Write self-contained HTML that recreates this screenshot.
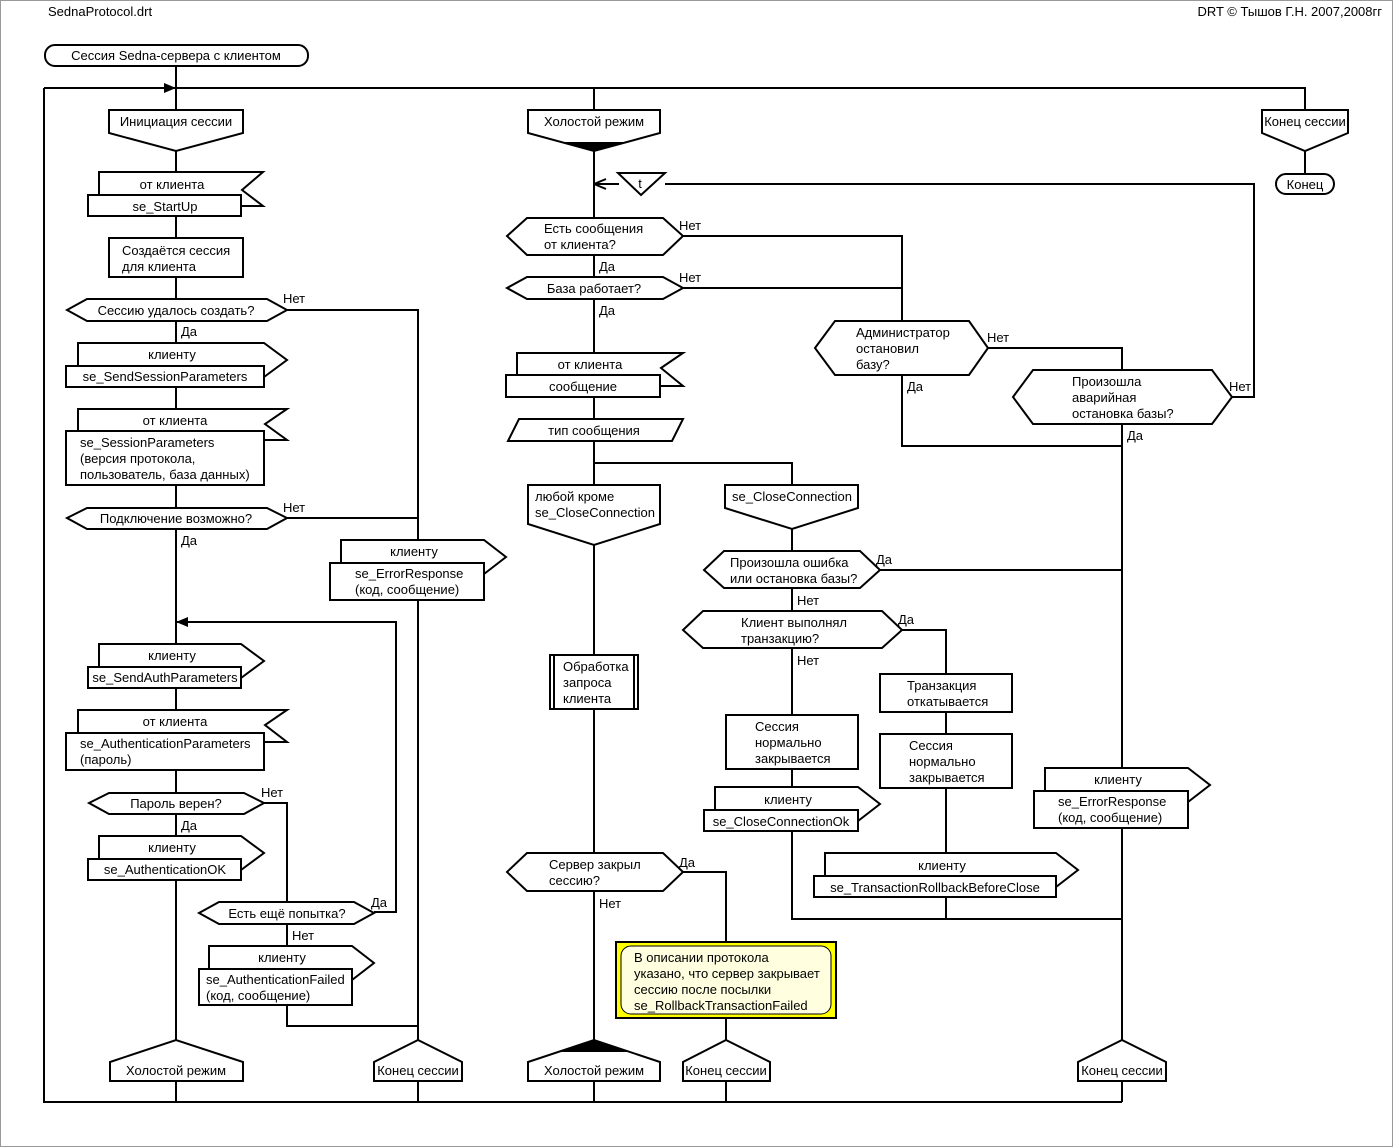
<!DOCTYPE html>
<html><head><meta charset="utf-8"><style>
html,body{margin:0;padding:0;background:#fff}
svg{display:block}
text{font-family:"Liberation Sans",Arial,sans-serif;font-size:13px;fill:#000}
.l{fill:none;stroke:#000;stroke-width:2}
.s{fill:#fff;stroke:#000;stroke-width:2}
.m{text-anchor:middle}
</style></head><body>
<svg width="1393" height="1147" viewBox="0 0 1393 1147" xmlns="http://www.w3.org/2000/svg">
<rect x="0.5" y="0.5" width="1392" height="1146" fill="#fff" stroke="#999"/>
<text x="48" y="16">SednaProtocol.drt</text>
<text x="1382" y="16" text-anchor="end">DRT © Тышов Г.Н. 2007,2008гг</text>

<!-- connectors -->
<path class="l" d="M176,66 V88 M44,88 H1305 V110 M44,88 V1102 H1122 M176,88 V110 M594,88 V110"/>
<path d="M176,88 l-12,-5 v10 z" fill="#000"/>
<path class="l" d="M176,151 V1060 M176,1081 V1102 M1305,151 V174"/>
<path class="l" d="M287,310 H418 V1060 M418,1081 V1102 M287,518 H418"/>
<path class="l" d="M264,803 H287 V902 M374,912 H396 V622 H176 M287,924 V946 M287,1005 V1026 H418"/>
<path d="M176,622 l12,-5 v10 z" fill="#000"/>
<path class="l" d="M594,151 V1060 M594,1081 V1102 M665,184 H1254 V397 H1232 M683,236 H902 V320 M683,288 H902 M902,375 V446 H1122 M988,348 H1122 V369 M1122,425 V1060 M1122,1081 V1102"/>
<path class="l" d="M594,184 H619 M594,184 l12,-5 M594,184 l12,5"/>
<path class="l" d="M594,463 H792 V485 M792,529 V919 H1122 M880,570 H1122 M902,630 H946 V897 M946,897 V919 M683,872 H726 V1060 M726,1081 V1102"/>

<!-- title -->
<rect class="s" x="45" y="45" width="263" height="21" rx="10"/>
<text class="m" x="176" y="60">Сессия Sedna-сервера с клиентом</text>

<!-- headers -->
<polygon class="s" points="109,110 243,110 243,133 176,151 109,133"/>
<text class="m" x="176" y="126">Инициация сессии</text>
<polygon class="s" points="528,110 660,110 660,133 594,151 528,133"/>
<polygon points="560,142 628,142 594,151" fill="#000"/>
<text class="m" x="594" y="126">Холостой режим</text>
<polygon class="s" points="1262,110 1348,110 1348,133 1305,151 1262,133"/>
<text class="m" x="1305" y="126">Конец сессии</text>
<rect class="s" x="1276" y="174" width="58" height="20" rx="10"/>
<text class="m" x="1305" y="189">Конец</text>

<!-- col1 -->
<polygon class="s" points="99,195 99,172 263,172 242,190 263,206 241,206"/>
<text class="m" x="172" y="189">от клиента</text>
<rect class="s" x="88" y="195" width="153" height="21"/>
<text class="m" x="165" y="211">se_StartUp</text>
<rect class="s" x="109" y="238" width="134" height="39"/>
<text x="122" y="255">Создаётся сессия</text><text x="122" y="271">для клиента</text>
<polygon class="s" points="67,310 87,299 267,299 287,310 267,321 87,321"/>
<text class="m" x="176" y="315">Сессию удалось создать?</text>
<text x="283" y="303">Нет</text><text x="181" y="336">Да</text>

<polygon class="s" points="78,366 78,343 264,343 287,360 264,377"/>
<text class="m" x="172" y="359">клиенту</text>
<rect class="s" x="66" y="366" width="198" height="21"/>
<text class="m" x="165" y="381">se_SendSessionParameters</text>

<polygon class="s" points="78,431 78,409 287,409 265,424 287,440 264,440"/>
<text class="m" x="175" y="425">от клиента</text>
<rect class="s" x="66" y="431" width="198" height="54"/>
<text x="80" y="447">se_SessionParameters</text><text x="80" y="463">(версия протокола,</text><text x="80" y="479">пользователь, база данных)</text>

<polygon class="s" points="67,518 87,508 267,508 287,518 267,529 87,529"/>
<text class="m" x="176" y="523">Подключение возможно?</text>
<text x="283" y="512">Нет</text><text x="181" y="545">Да</text>

<polygon class="s" points="341,563 341,540 484,540 506,557 484,574"/>
<text class="m" x="414" y="556">клиенту</text>
<rect class="s" x="330" y="563" width="154" height="37"/>
<text x="355" y="578">se_ErrorResponse</text><text x="355" y="594">(код, сообщение)</text>

<polygon class="s" points="99,667 99,644 241,644 264,661 241,678"/>
<text class="m" x="172" y="660">клиенту</text>
<rect class="s" x="88" y="667" width="153" height="21"/>
<text class="m" x="165" y="682">se_SendAuthParameters</text>

<polygon class="s" points="78,733 78,710 287,710 265,725 287,742 264,742"/>
<text class="m" x="175" y="726">от клиента</text>
<rect class="s" x="66" y="733" width="198" height="37"/>
<text x="80" y="748">se_AuthenticationParameters</text><text x="80" y="764">(пароль)</text>

<polygon class="s" points="89,803 109,793 244,793 264,803 244,814 109,814"/>
<text class="m" x="176" y="808">Пароль верен?</text>
<text x="261" y="797">Нет</text><text x="181" y="830">Да</text>

<polygon class="s" points="99,859 99,836 241,836 264,853 241,870"/>
<text class="m" x="172" y="852">клиенту</text>
<rect class="s" x="88" y="859" width="153" height="21"/>
<text class="m" x="165" y="874">se_AuthenticationOK</text>

<polygon class="s" points="199,913 219,902 354,902 374,913 354,924 219,924"/>
<text class="m" x="287" y="918">Есть ещё попытка?</text>
<text x="371" y="907">Да</text><text x="292" y="940">Нет</text>

<polygon class="s" points="209,969 209,946 352,946 374,963 352,980"/>
<text class="m" x="282" y="962">клиенту</text>
<rect class="s" x="199" y="969" width="153" height="36"/>
<text x="206" y="984">se_AuthenticationFailed</text><text x="206" y="1000">(код, сообщение)</text>

<polygon class="s" points="110,1081 110,1062 176,1040 243,1062 243,1081"/>
<text class="m" x="176" y="1075">Холостой режим</text>
<polygon class="s" points="374,1081 374,1062 418,1040 462,1062 462,1081"/>
<text class="m" x="418" y="1075">Конец сессии</text>

<!-- col2 -->
<polygon class="s" points="618,173 665,173 641,195"/>
<text class="m" x="640" y="188">t</text>
<polygon class="s" points="507,236 527,218 663,218 683,236 663,255 527,255"/>
<text x="544" y="233">Есть сообщения</text><text x="544" y="249">от клиента?</text>
<text x="679" y="230">Нет</text><text x="599" y="271">Да</text>
<polygon class="s" points="507,288 527,277 663,277 683,288 663,299 527,299"/>
<text class="m" x="594" y="293">База работает?</text>
<text x="679" y="282">Нет</text><text x="599" y="315">Да</text>

<polygon class="s" points="517,375 517,353 683,353 661,368 683,386 660,386"/>
<text class="m" x="590" y="369">от клиента</text>
<rect class="s" x="506" y="375" width="154" height="22"/>
<text class="m" x="583" y="391">сообщение</text>
<polygon class="s" points="508,441 519,419 683,419 672,441"/>
<text class="m" x="594" y="435">тип сообщения</text>

<polygon class="s" points="528,485 660,485 660,524 594,545 528,524"/>
<text x="535" y="501">любой кроме</text><text x="535" y="517">se_CloseConnection</text>
<polygon class="s" points="725,485 858,485 858,508 792,529 725,508"/>
<text class="m" x="792" y="501">se_CloseConnection</text>

<rect class="s" x="550" y="655" width="88" height="54"/>
<path class="l" d="M554,655 V709 M634,655 V709"/>
<text x="563" y="671">Обработка</text><text x="563" y="687">запроса</text><text x="563" y="703">клиента</text>

<polygon class="s" points="507,872 527,853 663,853 683,872 663,891 527,891"/>
<text x="549" y="869">Сервер закрыл</text><text x="549" y="885">сессию?</text>
<text x="679" y="867">Да</text><text x="599" y="908">Нет</text>

<rect x="616" y="942" width="220" height="76" fill="#ff0" stroke="#000" stroke-width="2"/>
<rect x="621" y="946" width="210" height="68" rx="10" fill="#ffffe0" stroke="#000" stroke-width="1"/>
<text x="634" y="962">В описании протокола</text><text x="634" y="978">указано, что сервер закрывает</text><text x="634" y="994">сессию после посылки</text><text x="634" y="1010">se_RollbackTransactionFailed</text>

<polygon class="s" points="528,1081 528,1062 594,1040 660,1062 660,1081"/>
<polygon points="560,1052 594,1040 628,1052" fill="#000"/>
<text class="m" x="594" y="1075">Холостой режим</text>
<polygon class="s" points="683,1081 683,1062 726,1040 770,1062 770,1081"/>
<text class="m" x="726" y="1075">Конец сессии</text>

<!-- col3 -->
<polygon class="s" points="704,570 724,551 860,551 880,570 860,588 724,588"/>
<text x="730" y="567">Произошла ошибка</text><text x="730" y="583">или остановка базы?</text>
<text x="876" y="564">Да</text><text x="797" y="605">Нет</text>
<polygon class="s" points="683,630 703,611 882,611 902,630 882,648 703,648"/>
<text x="741" y="627">Клиент выполнял</text><text x="741" y="643">транзакцию?</text>
<text x="898" y="624">Да</text><text x="797" y="665">Нет</text>

<rect class="s" x="726" y="715" width="132" height="54"/>
<text x="755" y="731">Сессия</text><text x="755" y="747">нормально</text><text x="755" y="763">закрывается</text>
<polygon class="s" points="715,810 715,787 858,787 880,804 858,821"/>
<text class="m" x="788" y="804">клиенту</text>
<rect class="s" x="704" y="810" width="154" height="21"/>
<text class="m" x="781" y="826">se_CloseConnectionOk</text>

<rect class="s" x="880" y="674" width="132" height="38"/>
<text x="907" y="690">Транзакция</text><text x="907" y="706">откатывается</text>
<rect class="s" x="880" y="734" width="132" height="54"/>
<text x="909" y="750">Сессия</text><text x="909" y="766">нормально</text><text x="909" y="782">закрывается</text>
<polygon class="s" points="825,876 825,853 1056,853 1078,870 1056,887"/>
<text class="m" x="942" y="870">клиенту</text>
<rect class="s" x="814" y="876" width="242" height="21"/>
<text class="m" x="935" y="892">se_TransactionRollbackBeforeClose</text>

<polygon class="s" points="815,348 835,321 969,321 988,348 969,375 835,375"/>
<text x="856" y="337">Администратор</text><text x="856" y="353">остановил</text><text x="856" y="369">базу?</text>
<text x="987" y="342">Нет</text><text x="907" y="391">Да</text>

<polygon class="s" points="1013,397 1033,370 1212,370 1232,397 1212,424 1033,424"/>
<text x="1072" y="386">Произошла</text><text x="1072" y="402">аварийная</text><text x="1072" y="418">остановка базы?</text>
<text x="1229" y="391">Нет</text><text x="1127" y="440">Да</text>

<polygon class="s" points="1045,791 1045,768 1188,768 1210,785 1188,802"/>
<text class="m" x="1118" y="784">клиенту</text>
<rect class="s" x="1034" y="791" width="154" height="37"/>
<text x="1058" y="806">se_ErrorResponse</text><text x="1058" y="822">(код, сообщение)</text>

<polygon class="s" points="1078,1081 1078,1062 1122,1040 1166,1062 1166,1081"/>
<text class="m" x="1122" y="1075">Конец сессии</text>
</svg>
</body></html>
